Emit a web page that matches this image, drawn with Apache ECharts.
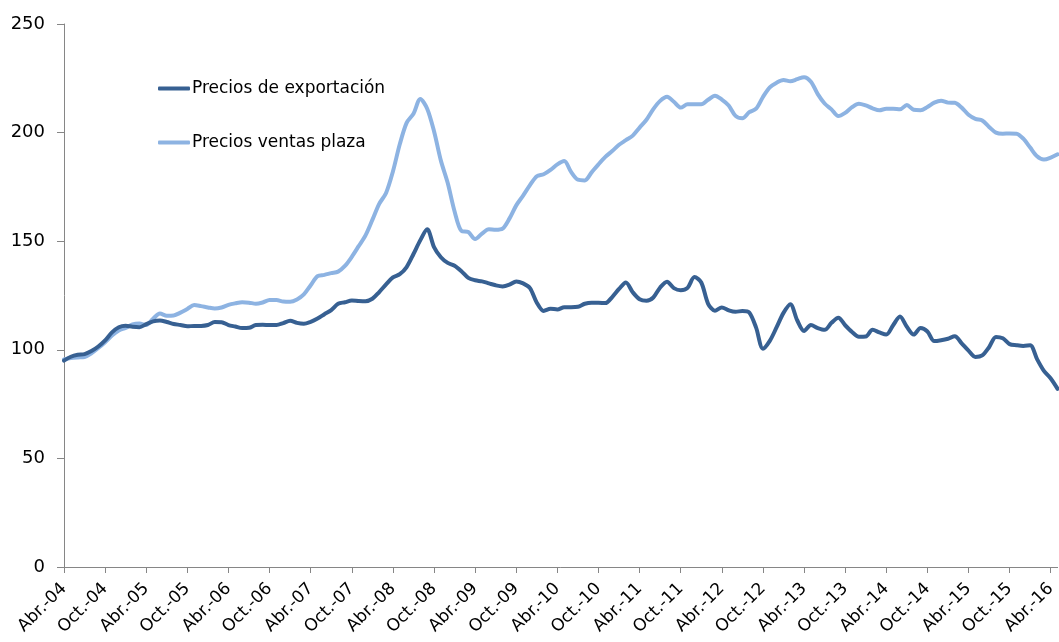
<!DOCTYPE html>
<html>
<head>
<meta charset="utf-8">
<script src="https://cdn.jsdelivr.net/npm/echarts@6/dist/echarts.min.js"></script>
<style>
  html, body { margin: 0; padding: 0; background: #fff; }
  #main { width: 1059px; height: 642px; }
</style>
</head>
<body>
<div id="main"></div>
<script>
// meses abril 2004 - mayo 2016
var meses = ['Ene.', 'Feb.', 'Mar.', 'Abr.', 'May.', 'Jun.', 'Jul.', 'Ago.', 'Sep.', 'Oct.', 'Nov.', 'Dic.'];
var categorias = [];
for (var k = 0; k < 146; k++) {
    var m = (3 + k) % 12;
    var a = 4 + Math.floor((3 + k) / 12);
    categorias.push(meses[m] + '-' + (a < 10 ? '0' + a : '' + a));
}

var preciosExportacion = [
    95, 96.8, 97.7, 98.0, 99.4, 101.5, 104.3, 108.0, 110.4, 111.1, 110.6, 110.4,
    111.8, 113.1, 113.5, 112.8, 111.9, 111.4, 110.8, 111.0, 111.0, 111.4, 112.8, 112.7,
    111.4, 110.7, 110.0, 110.1, 111.4, 111.5, 111.4, 111.4, 112.3, 113.4, 112.4, 112.0,
    112.9, 114.4, 116.4, 118.3, 121.2, 121.9, 122.7, 122.5, 122.4, 123.5, 126.6, 130.1,
    133.3, 134.8, 138.1, 144.1, 150.5, 155.5, 147.3, 142.6, 140.0, 138.7, 136.2, 133.1,
    132.0, 131.5, 130.6, 129.7, 129.2, 130.0, 131.5, 130.6, 128.4, 121.7, 117.9, 118.9,
    118.6, 119.6, 119.6, 119.8, 121.2, 121.7, 121.7, 121.5, 124.3, 128.0, 131.0, 126.5,
    123.3, 122.6, 124.1, 128.7, 131.3, 128.4, 127.4, 128.5, 133.5, 131.0, 121.2, 118.0,
    119.5, 118.2, 117.5, 117.9, 117.2, 110.2, 100.5, 104.1, 110.4, 117.0, 121.0, 113.6,
    108.7, 111.4, 110.0, 109.2, 112.4, 114.8, 111.3, 108.2, 106.0, 106.1, 109.2, 108.0,
    107.0, 111.3, 115.3, 110.6, 107.0, 110.0, 108.4, 104.0, 104.4, 105.1, 106.2, 103.0,
    99.6, 96.7, 97.4, 101.2, 105.9, 105.3, 102.6, 102.1, 101.8, 102.1, 95.7, 90.3,
    86.8, 82
];

var preciosVentasPlaza = [
    95.6, 96.2, 96.5, 96.7, 98.4, 100.8, 103.5, 106.6, 108.9, 110.1, 111.7, 112.1,
    111.4, 114.3, 116.7, 115.7, 115.8, 117.1, 118.8, 120.6, 120.1, 119.5, 119.0, 119.5,
    120.7, 121.4, 121.9, 121.7, 121.2, 121.8, 122.9, 122.9, 122.2, 122.1, 123.2, 125.5,
    129.7, 133.9, 134.5, 135.3, 136.0, 138.6, 142.8, 147.7, 152.7, 159.8, 167.2, 172.2,
    182.1, 194.6, 204.5, 208.7, 215.5, 211.0, 200.6, 187.1, 176.8, 163.7, 154.7, 154.2,
    151.0, 153.5, 155.5, 155.3, 155.8, 160.4, 166.5, 171.0, 175.8, 179.9, 180.8, 182.8,
    185.4, 186.9, 181.9, 178.3, 178.0, 181.7, 185.4, 188.8, 191.5, 194.4, 196.5, 198.6,
    202.3, 205.9, 210.8, 214.6, 216.5, 214.2, 211.5, 213.0, 213.0, 213.0, 215.1, 217.0,
    215.2, 212.5, 207.7, 206.6, 209.4, 211.0, 216.4, 220.8, 223.0, 224.2, 223.6, 224.6,
    225.5, 223.4, 217.7, 213.4, 210.7, 207.6, 209.1, 211.7, 213.3, 212.5, 211.2, 210.3,
    211.0, 211.0, 210.7, 212.7, 210.5, 210.3, 211.8, 213.8, 214.7, 213.8, 213.7, 211.5,
    208.2, 206.3, 205.6, 202.6, 200.0, 199.5, 199.6, 199.5, 197.2, 193.1, 189.1, 187.6,
    188.5, 190
];

var myChart = echarts.init(document.getElementById('main'));

var fuente = 'DejaVu Sans';

var option = {
    backgroundColor: '#ffffff',
    animation: false,
    textStyle: { fontFamily: fuente },
    //leyenda
    legend: {
        orient: 'vertical',
        left: 158,
        top: 80,
        padding: 0,
        itemGap: 37,
        itemWidth: 32,
        itemHeight: 4,
        icon: 'roundRect',
        textStyle: { fontFamily: fuente, fontSize: 17, color: '#000', padding: [0, 0, 0, -3] },
        data: ['Precios de exportación', 'Precios ventas plaza']
    },
    grid: {
        left: 64,
        right: 1.4,
        top: 24,
        bottom: 75
    },
    xAxis: {
        type: 'category',
        boundaryGap: false,
        data: categorias,
        axisLine: { lineStyle: { color: '#868686', width: 1 } },
        axisTick: { interval: 5, length: 6, lineStyle: { color: '#868686' } },
        axisLabel: {
            interval: 5,
            rotate: 45,
            margin: 19,
            fontSize: 17,
            color: '#000',
            fontFamily: fuente
        }
    },
    yAxis: {
        type: 'value',
        min: 0,
        max: 250,
        interval: 50,
        splitLine: { show: false },
        axisLine: { show: true, lineStyle: { color: '#868686', width: 1 } },
        axisTick: { show: true, length: 7, lineStyle: { color: '#868686' } },
        axisLabel: { margin: 19, fontSize: 18, color: '#000', fontFamily: fuente }
    },
    series: [
        {
            name: 'Precios de exportación',
            type: 'line',
            data: preciosExportacion,
            smooth: 0.3,
            showSymbol: false,
            color: '#376092',
            lineStyle: { width: 4, color: '#376092', cap: 'round', join: 'round' },
            z: 3
        },
        {
            name: 'Precios ventas plaza',
            type: 'line',
            data: preciosVentasPlaza,
            smooth: 0.3,
            showSymbol: false,
            color: '#8DB3E2',
            lineStyle: { width: 4, color: '#8DB3E2', cap: 'round', join: 'round' },
            z: 2
        }
    ]
};

myChart.setOption(option);
</script>
</body>
</html>
